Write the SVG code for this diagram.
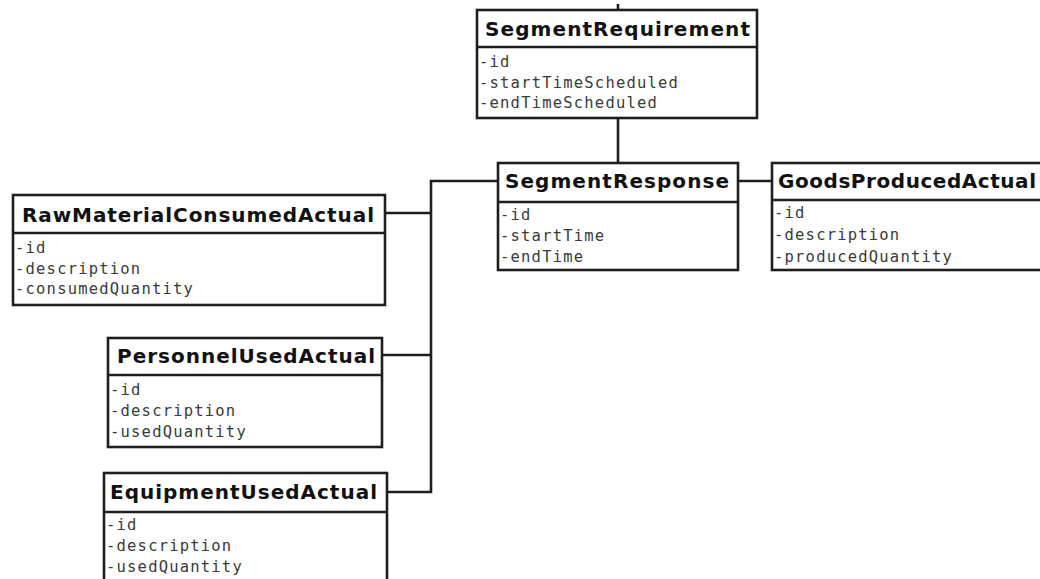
<svg xmlns="http://www.w3.org/2000/svg" width="1040" height="579" viewBox="0 0 1040 579">
  <style>
    .box { fill: #ffffff; stroke: #1e1e1e; stroke-width: 2.6; }
    .div { stroke: #1e1e1e; stroke-width: 2.6; }
    .title { font-family: "DejaVu Sans", "Liberation Sans", sans-serif; font-weight: bold; font-size: 20px; fill: #111111; }
    .attr { font-family: "DejaVu Sans Mono", "Liberation Mono", monospace; font-size: 15.5px; fill: #3a3a3a; letter-spacing: 1.2px; }
    .link { fill: none; stroke: #1e1e1e; stroke-width: 2.6; }
  </style>

  <g id="connectors">
    <path class="link" d="M618,4 V10"/>
    <path class="link" d="M618,118 V163"/>
    <path class="link" d="M738,181 H772"/>
    <path class="link" d="M498,181 H431 V492 H387"/>
    <path class="link" d="M385,213 H431"/>
    <path class="link" d="M382,355 H431"/>
  </g>

  <g id="SegmentRequirement">
    <rect class="box" x="477" y="10" width="280" height="108"/>
    <line class="div" x1="477" y1="47" x2="757" y2="47"/>
    <text class="title" x="485" y="36" textLength="265" lengthAdjust="spacing">SegmentRequirement</text>
    <text class="attr" x="479" y="67">-id</text>
    <text class="attr" x="479" y="88">-startTimeScheduled</text>
    <text class="attr" x="479" y="108">-endTimeScheduled</text>
  </g>

  <g id="SegmentResponse">
    <rect class="box" x="498" y="163" width="240" height="107"/>
    <line class="div" x1="498" y1="202" x2="738" y2="202"/>
    <text class="title" x="505" y="188" textLength="224" lengthAdjust="spacing">SegmentResponse</text>
    <text class="attr" x="500" y="220">-id</text>
    <text class="attr" x="500" y="241">-startTime</text>
    <text class="attr" x="500" y="262">-endTime</text>
  </g>

  <g id="GoodsProducedActual">
    <rect class="box" x="772" y="163" width="290" height="107"/>
    <line class="div" x1="772" y1="200" x2="1062" y2="200"/>
    <text class="title" x="778" y="188" textLength="258" lengthAdjust="spacing">GoodsProducedActual</text>
    <text class="attr" x="774" y="218">-id</text>
    <text class="attr" x="774" y="240">-description</text>
    <text class="attr" x="774" y="262">-producedQuantity</text>
  </g>

  <g id="RawMaterialConsumedActual">
    <rect class="box" x="13" y="195" width="372" height="110"/>
    <line class="div" x1="13" y1="233" x2="385" y2="233"/>
    <text class="title" x="22" y="222" textLength="352" lengthAdjust="spacing">RawMaterialConsumedActual</text>
    <text class="attr" x="15" y="253">-id</text>
    <text class="attr" x="15" y="274">-description</text>
    <text class="attr" x="15" y="294">-consumedQuantity</text>
  </g>

  <g id="PersonnelUsedActual">
    <rect class="box" x="108" y="338" width="274" height="109"/>
    <line class="div" x1="108" y1="375" x2="382" y2="375"/>
    <text class="title" x="117" y="363" textLength="258" lengthAdjust="spacing">PersonnelUsedActual</text>
    <text class="attr" x="110" y="395">-id</text>
    <text class="attr" x="110" y="416">-description</text>
    <text class="attr" x="110" y="437">-usedQuantity</text>
  </g>

  <g id="EquipmentUsedActual">
    <rect class="box" x="104" y="473" width="283" height="120"/>
    <line class="div" x1="104" y1="512" x2="387" y2="512"/>
    <text class="title" x="110" y="499" textLength="267" lengthAdjust="spacing">EquipmentUsedActual</text>
    <text class="attr" x="106" y="530">-id</text>
    <text class="attr" x="106" y="551">-description</text>
    <text class="attr" x="106" y="572">-usedQuantity</text>
  </g>
</svg>
